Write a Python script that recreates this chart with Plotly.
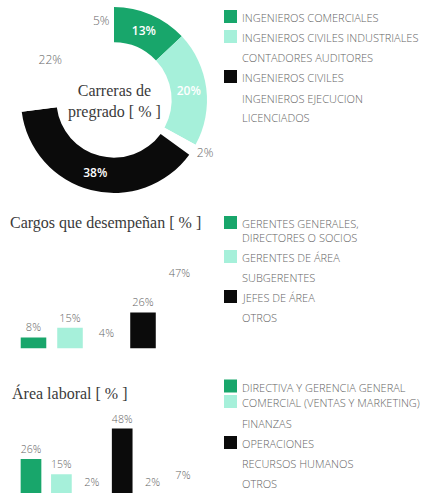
import plotly.graph_objects as go

W, H = 438, 493

# ---- data ----
carreras_labels = ["INGENIEROS COMERCIALES", "INGENIEROS CIVILES INDUSTRIALES",
                   "CONTADORES AUDITORES", "INGENIEROS CIVILES",
                   "INGENIEROS EJECUCION", "LICENCIADOS"]
carreras_values = [13, 20, 2, 38, 22, 5]

cargos_labels = ["GERENTES GENERALES,<br>DIRECTORES O SOCIOS", "GERENTES DE ÁREA",
                 "SUBGERENTES", "JEFES DE ÁREA", "OTROS"]
cargos_values = [8, 15, 4, 26, 47]

area_labels = ["DIRECTIVA Y GERENCIA GENERAL", "COMERCIAL (VENTAS Y MARKETING)",
               "FINANZAS", "OPERACIONES", "RECURSOS HUMANOS", "OTROS"]
area_values = [26, 15, 2, 48, 2, 7]

# ---- palette ----
GREEN = "#18a66b"
MINT = "#a6f0da"
BLACK = "#0b0b0b"
BLANK = "#ffffff"
carreras_colors = [GREEN, MINT, BLANK, BLACK, BLANK, BLANK]
cargos_colors = [GREEN, MINT, BLANK, BLACK, BLANK]
area_colors = [GREEN, MINT, BLANK, BLACK, BLANK, BLANK]

LABEL_GRAY = "#666666"
LEGEND_GRAY = "#666666"
TITLE_COLOR = "#3a3a3a"
SANS = "Open Sans, Lato, sans-serif"
SERIF = "Liberation Serif, DejaVu Serif, serif"


def px_x(x):
    return x / W


def px_y(y):
    return 1 - y / H


fig = go.Figure()

# ---- donut ----
def text_color(c):
    return "#ffffff" if c != BLANK else LABEL_GRAY


def text_weight(c):
    return 600 if c != BLANK else 300

fig.add_trace(go.Pie(
    labels=carreras_labels,
    values=carreras_values,
    sort=False,
    direction="clockwise",
    rotation=0,
    hole=0.62,
    marker=dict(colors=carreras_colors, line=dict(width=0)),
    texttemplate="%{value}%",
    textposition=["inside", "inside", "outside", "inside", "inside", "inside"],
    insidetextorientation="horizontal",
    textfont=dict(family=SANS, size=12,
                  color=[text_color(c) for c in carreras_colors],
                  weight=[text_weight(c) for c in carreras_colors]),
    outsidetextfont=dict(family=SANS, size=12, color=LABEL_GRAY, weight=300),
    domain=dict(x=[px_x(21), px_x(207)], y=[px_y(193), px_y(7)]),
    showlegend=False,
    hoverinfo="label+value",
))

fig.add_annotation(
    x=px_x(114), y=px_y(102), xref="paper", yref="paper",
    xanchor="center", yanchor="middle",
    text="Carreras de<br>pregrado [ % ]", showarrow=False,
    font=dict(family=SERIF, size=16, color=TITLE_COLOR), align="center",
)

# ---- Cargos bars ----
fig.add_trace(go.Bar(
    x=list(range(len(cargos_values))), y=cargos_values,
    marker=dict(color=cargos_colors, line=dict(width=0)),
    text=[f"{v}%" for v in cargos_values], textposition="outside",
    textfont=dict(family=SANS, size=11, color=LABEL_GRAY, weight=300),
    cliponaxis=False, width=0.7, showlegend=False,
    xaxis="x", yaxis="y",
))

# ---- Área laboral bars ----
fig.add_trace(go.Bar(
    x=list(range(len(area_values))), y=area_values,
    marker=dict(color=area_colors, line=dict(width=0)),
    text=[f"{v}%" for v in area_values], textposition="outside",
    textfont=dict(family=SANS, size=11, color=LABEL_GRAY, weight=300),
    cliponaxis=False, width=0.68, showlegend=False,
    xaxis="x2", yaxis="y2",
))

# Bar scale: 1.385 px per percentage point
SCALE = 1.385
base2, top2 = 348.5, 268.0
base3 = 495.0
axis_off = dict(visible=False, showgrid=False, zeroline=False, fixedrange=True)

fig.update_layout(
    width=W, height=H,
    margin=dict(l=0, r=0, t=0, b=0),
    paper_bgcolor="#ffffff", plot_bgcolor="rgba(0,0,0,0)",
    barmode="overlay",
    xaxis=dict(domain=[px_x(15.25), px_x(197.75)], range=[-0.5, 4.5], **axis_off),
    yaxis=dict(domain=[px_y(base2), px_y(top2)],
               range=[0, (base2 - top2) / SCALE], **axis_off),
    xaxis2=dict(domain=[px_x(15.8), px_x(198.2)], range=[-0.5, 5.5],
                anchor="y2", **axis_off),
    yaxis2=dict(domain=[0, px_y(415)],
                range=[(base3 - H) / SCALE, (base3 - 415) / SCALE],
                anchor="x2", **axis_off),
    showlegend=False,
)

# ---- section titles ----
fig.add_annotation(x=px_x(8), y=px_y(223), xref="paper", yref="paper",
                   text="Cargos que desempeñan [ % ]", showarrow=False,
                   xanchor="left", yanchor="middle",
                   font=dict(family=SERIF, size=16, color=TITLE_COLOR))
fig.add_annotation(x=px_x(10), y=px_y(393), xref="paper", yref="paper",
                   text="Área laboral [ % ]", showarrow=False,
                   xanchor="left", yanchor="middle",
                   font=dict(family=SERIF, size=16, color=TITLE_COLOR))


# ---- legends: colour square + label per category ----
def legend_block(labels, colors, rows_y):
    for lab, col, y in zip(labels, colors, rows_y):
        if col != BLANK:
            fig.add_shape(type="rect", xref="paper", yref="paper",
                          x0=px_x(224), x1=px_x(237),
                          y0=px_y(y + 7), y1=px_y(y - 6),
                          fillcolor=col, line=dict(width=0))
        fig.add_annotation(x=px_x(240), y=px_y(y - 8), xref="paper",
                           yref="paper", text=lab, showarrow=False,
                           xanchor="left", yanchor="top", align="left",
                           font=dict(family=SANS, size=11, weight=300,
                                     color=LEGEND_GRAY))


legend_block(carreras_labels, carreras_colors, [16, 36, 56, 76, 96.5, 116.5])
legend_block(cargos_labels, cargos_colors, [222, 256, 276, 296, 316])
legend_block(area_labels, area_colors, [385.5, 401, 421.5, 442, 462, 482])

fig.write_html("out.html")
